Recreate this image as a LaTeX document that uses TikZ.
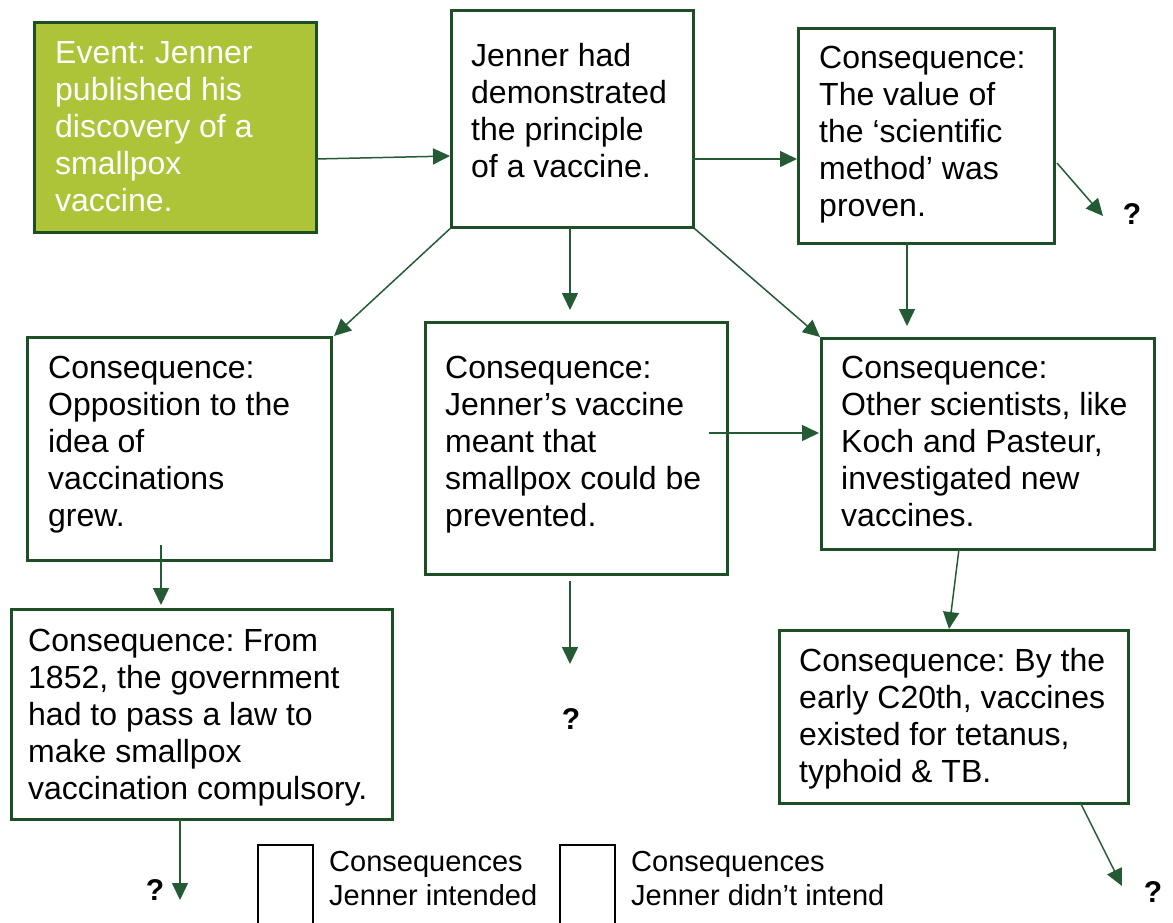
\documentclass[tikz,border=0pt]{standalone}
\usepackage{fontspec}
\setmainfont{Liberation Sans}
\usetikzlibrary{arrows.meta}
\frenchspacing
\definecolor{boxgreen}{HTML}{1D4F27}
\definecolor{arrgreen}{HTML}{245B35}
\definecolor{fillgreen}{HTML}{ADC439}
\tikzset{
  box/.style={draw=boxgreen, line width=2.7pt, rectangle, anchor=north west, inner sep=0pt},
  txt/.style={anchor=north west, inner sep=0pt, align=left, font=\frenchspacing\fontsize{32}{37}\selectfont},
  legtxt/.style={anchor=north west, inner sep=0pt, align=left, font=\fontsize{29}{34}\selectfont},
  qm/.style={inner sep=0pt, font=\bfseries\fontsize{30}{32}\selectfont},
  arr/.style={draw=arrgreen, line width=1.5pt, -{Triangle[length=17pt,width=16pt]}},
  legbox/.style={draw=black, line width=2pt}
}
\begin{document}
\begin{tikzpicture}[x=1pt,y=-1pt]
\useasboundingbox (0,0) rectangle (1173,922);
% boxes
\node[box, fill=fillgreen, minimum width=282pt, minimum height=210pt] (b1) at (33,21) {};
\node[box, minimum width=242pt, minimum height=217pt] (b2) at (450,9) {};
\node[box, minimum width=256pt, minimum height=215pt] (b3) at (797,27) {};
\node[box, minimum width=304pt, minimum height=223pt] (b4) at (26,336) {};
\node[box, minimum width=302pt, minimum height=252pt] (b5) at (424,321) {};
\node[box, minimum width=333pt, minimum height=211pt] (b6) at (820,337) {};
\node[box, minimum width=381pt, minimum height=210pt] (b7) at (10,608) {};
\node[box, minimum width=349pt, minimum height=173pt] (b8) at (778,629) {};
% texts
\node[txt, text=white] (t1) at (55,41.5) {Event: Jenner\\published his\\discovery of a\\smallpox\\vaccine.};
\node[txt] (t2) at (471,43.5) {Jenner had\\demonstrated\\the principle\\of a vaccine.};
\node[txt] (t3) at (819,45.5) {Consequence:\\The value of\\the ‘scientific\\method’ was\\proven.};
\node[txt] (t4) at (48,355.5) {Consequence:\\Opposition to the\\idea of\\vaccinations\\grew.};
\node[txt] (t5) at (445,355.5) {Consequence:\\Jenner’s vaccine\\meant that\\smallpox could be\\prevented.};
\node[txt] (t6) at (841,355.5) {Consequence:\\Other scientists, like\\Koch and Pasteur,\\investigated new\\vaccines.};
\node[txt] (t7) at (28,628.5) {Consequence: From\\1852, the government\\had to pass a law to\\make smallpox\\vaccination compulsory.};
\node[txt] (t8) at (799,648.5) {Consequence: By the\\early C20th, vaccines\\existed for tetanus,\\typhoid \& TB.};
% question marks
\node[qm] (q1) at (1132,214) {?};
\node[qm] (q2) at (571,719) {?};
\node[qm] (q3) at (155,890) {?};
\node[qm] (q4) at (1153,892) {?};
% arrow end coordinates
\coordinate (s1) at (315,159); \coordinate (e1) at (450,156);
\coordinate (s2) at (692,159); \coordinate (e2) at (797,159);
\coordinate (e3) at (334,336);
\coordinate (s4) at (570,227); \coordinate (e4) at (570,310);
\coordinate (s6) at (907,242); \coordinate (e6) at (907,326);
\coordinate (s7) at (1057,163); \coordinate (e7) at (1103,216);
\coordinate (s8) at (709,433); \coordinate (e8) at (819,433);
\coordinate (s9) at (161,545); \coordinate (e9) at (161,605);
\coordinate (s10) at (570,581); \coordinate (e10) at (570,664);
\coordinate (s11) at (959,549); \coordinate (e11) at (949,629);
\coordinate (s12) at (180,818); \coordinate (e12) at (180,900);
\coordinate (s13) at (1080,802); \coordinate (e13) at (1122,886);
% arrows
\draw[arr] (s1) -- (e1);
\draw[arr] (s2) -- (e2);
\draw[arr] (b2.south west) -- (e3);
\draw[arr] (s4) -- (e4);
\draw[arr] (b2.south east) -- (b6.north west);
\draw[arr] (s6) -- (e6);
\draw[arr] (s7) -- (e7);
\draw[arr] (s8) -- (e8);
\draw[arr] (s9) -- (e9);
\draw[arr] (s10) -- (e10);
\draw[arr] (s11) -- (e11);
\draw[arr] (s12) -- (e12);
\draw[arr] (s13) -- (e13);
% legend
\draw[legbox] (258,923) -- (258,845) -- (313,845) -- (313,923);
\draw[legbox] (560,923) -- (560,845) -- (615,845) -- (615,923);
\node[legtxt] (l1) at (329,851.5) {Consequences\\Jenner intended};
\node[legtxt] (l2) at (631,851.5) {Consequences\\Jenner didn’t intend};
\end{tikzpicture}
\end{document}
